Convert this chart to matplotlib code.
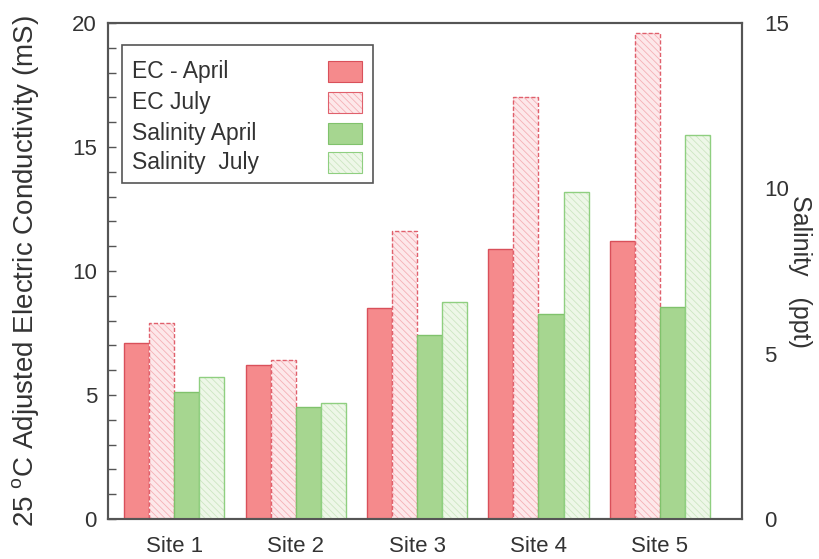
import matplotlib
matplotlib.use('Agg')
import matplotlib.pyplot as plt
import numpy as np
from matplotlib.patches import Rectangle
from matplotlib.ticker import MultipleLocator

plt.rcParams['font.family'] = ['Liberation Sans', 'DejaVu Sans']
plt.rcParams['mathtext.fontset'] = 'custom'
plt.rcParams['mathtext.rm'] = 'Liberation Sans'
plt.rcParams['hatch.linewidth'] = 0.6

sites = ['Site 1', 'Site 2', 'Site 3', 'Site 4', 'Site 5']
ec_april = [7.1, 6.2, 8.5, 10.9, 11.2]
ec_july = [7.9, 6.4, 11.6, 17.0, 19.6]
sal_april = [3.85, 3.4, 5.55, 6.2, 6.4]
sal_july = [4.3, 3.5, 6.55, 9.9, 11.6]
labels = ['EC - April', 'EC July', 'Salinity April', 'Salinity  July']

txt = '#333333'
spine = '#555555'
hatch = '\\\\\\\\\\'

fig = plt.figure(figsize=(8.19, 5.59), dpi=100)
ax = fig.add_axes([0.132, 0.0716, 0.774, 0.8873])
ax2 = ax.twinx()
ax2.patch.set_visible(False)

x = np.arange(len(sites))
w = 0.206

# colours: fill, hatch, edge
c_eca = ('#f58a8c', None, '#d9505a')
c_ecj = ('#fde8ea', '#f4b0b6', '#e0606c')
c_sa = ('#a6d690', None, '#80c26c')
c_sj = ('#eef7e8', '#cde6c2', '#8fcf80')


def draw(a, pos, vals, col, ls='-'):
    fc, hc, ec = col
    if hc is None:
        a.bar(pos, vals, w, color=fc, edgecolor=ec, linewidth=1.0)
    else:
        a.bar(pos, vals, w, color=fc, edgecolor=hc, hatch=hatch, linewidth=0)
        a.bar(pos, vals, w, fill=False, edgecolor=ec, linewidth=1.0, linestyle=ls)


draw(ax, x - 1.5 * w, ec_april, c_eca)
draw(ax, x - 0.5 * w, ec_july, c_ecj, ls=(0, (3, 1.5)))
draw(ax2, x + 0.5 * w, sal_april, c_sa)
draw(ax2, x + 1.5 * w, sal_july, c_sj)

ax.set_xlim(-0.544, 4.676)
ax.set_ylim(0, 20)
ax2.set_ylim(0, 15)

ax.set_xticks(x)
ax.set_xticklabels(sites)
ax.yaxis.set_major_locator(MultipleLocator(5))
ax.yaxis.set_minor_locator(MultipleLocator(1))
ax2.yaxis.set_major_locator(MultipleLocator(5))

ax.tick_params(axis='x', length=0, pad=12, labelsize=16, labelcolor=txt)
ax.tick_params(axis='y', which='both', direction='in', length=6, color=spine,
               width=1, pad=8, labelsize=16, labelcolor=txt)
ax2.tick_params(axis='y', length=0, pad=16, labelsize=16, labelcolor=txt)

for a in (ax, ax2):
    for s in a.spines.values():
        s.set_color(spine)
        s.set_linewidth(1.5)

ax.set_ylabel(r'25 $^{\rm o}$C Adjusted Electric Conductivity (mS)',
              fontsize=20, color=txt)
ax.yaxis.set_label_coords(-0.104, 0.5)
ax2.set_ylabel('Salinity   (ppt)', fontsize=18, color=txt, rotation=270, va='bottom')
ax2.yaxis.set_label_coords(1.072, 0.5)

# legend drawn by hand: text on the left, swatches on the right
ax2.add_patch(Rectangle((0.0221, 0.677), 0.396, 0.279, transform=ax2.transAxes,
                        facecolor='white', edgecolor=spine, linewidth=1.2, zorder=5))
rows = [0.902, 0.840, 0.778, 0.718]
cols = [c_eca, c_ecj, c_sa, c_sj]
for lab, yr, col in zip(labels, rows, cols):
    fc, hc, ec = col
    if hc is None:
        ax2.add_patch(Rectangle((0.347, yr - 0.021), 0.054, 0.042, transform=ax2.transAxes,
                                facecolor=fc, edgecolor=ec, linewidth=0.8, zorder=6))
    else:
        ax2.add_patch(Rectangle((0.347, yr - 0.021), 0.054, 0.042, transform=ax2.transAxes,
                                facecolor=fc, edgecolor=hc, hatch=hatch, linewidth=0, zorder=6))
        ax2.add_patch(Rectangle((0.347, yr - 0.021), 0.054, 0.042, transform=ax2.transAxes,
                                fill=False, edgecolor=ec, linewidth=0.8, zorder=7))
    ax2.text(0.038, yr, lab, transform=ax2.transAxes, fontsize=16.5, color=txt,
             va='center', ha='left', zorder=8)

fig.savefig('out.png', dpi=100)
